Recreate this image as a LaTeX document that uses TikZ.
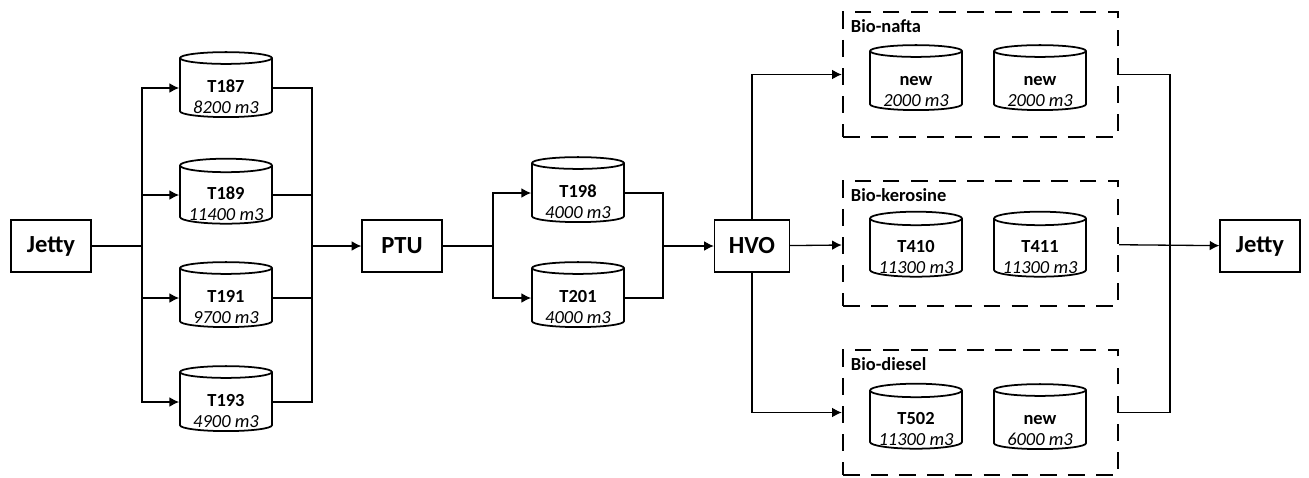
\documentclass[tikz,border=0pt]{standalone}
\usepackage{fontspec}
\setmainfont{Carlito}
\usetikzlibrary{shapes.geometric,positioning,arrows.meta}
% tank text: name in bold, volume in italics, set a little low in the body
\newcommand{\tanklabel}[2]{\raisebox{-8.8pt}[0pt][0pt]{\begin{tabular}{@{}c@{}}\textbf{#1}\\\textit{#2}\end{tabular}}}
\begin{document}
\begin{tikzpicture}[
		x=0.02cm, y=-0.02cm,
		unit/.style={rectangle, draw, line width=0.7pt, minimum width=1.6cm, minimum height=1.04cm, font=\fontsize{14}{16}\selectfont\bfseries},
		tank/.style={cylinder, shape border rotate=90, aspect=0.18, draw, line width=1pt, minimum width=1.84cm, minimum height=1.3cm, font=\fontsize{10.5}{12.4}\selectfont, inner sep=0pt},
		group/.style={rectangle, draw, line width=1.4pt, dash pattern=on 9.5pt off 6.5pt, minimum width=5.5cm, minimum height=2.5cm},
		grouplabel/.style={font=\fontsize{10.5}{12}\selectfont\bfseries, inner sep=0pt},
		flow/.style={line width=0.75pt},
		arr/.style={flow, -{Latex[length=5.5pt,width=5.5pt]}}
	]
		\useasboundingbox (0,0) rectangle (1309,477);
		% Main units
		\node[unit] (jetty1) at (51,246) {Jetty};
		\node[unit] (ptu) at (402,246) {PTU};
		\node[unit, minimum width=1.5cm] (hvo) at (752,246) {HVO};
		\node[unit] (jetty2) at (1260,246) {Jetty};
		
		% Storage tanks before PTU
		\node[tank] (t187) at (226,88) {\tanklabel{T187}{8200 m3}};
		\node[tank] (t189) at (226,195) {\tanklabel{T189}{11400 m3}};
		\node[tank] (t191) at (226,298) {\tanklabel{T191}{9700 m3}};
		\node[tank] (t193) at (226,402) {\tanklabel{T193}{4900 m3}};
		
		% Storage tanks before HVO
		\node[tank] (t198) at (578,193) {\tanklabel{T198}{4000 m3}};
		\node[tank] (t201) at (578,298) {\tanklabel{T201}{4000 m3}};
		
		% Product groups
		\node[group] (nafta) at (980.5,74.5) {};
		\node[group] (kero) at (980.5,243.5) {};
		\node[group] (diesel) at (980.5,412.5) {};
		\node[grouplabel, below right=5pt and 5pt of nafta.north west] (naftalabel) {Bio-nafta};
		\node[grouplabel, below right=5pt and 5pt of kero.north west] (kerolabel) {Bio-kerosine};
		\node[grouplabel, below right=5pt and 5pt of diesel.north west] (diesellabel) {Bio-diesel};
		
		\node[tank] (n1) at (916,81) {\tanklabel{new}{2000 m3}};
		\node[tank] (n2) at (1040,81) {\tanklabel{new}{2000 m3}};
		\node[tank] (t410) at (916,248) {\tanklabel{T410}{11300 m3}};
		\node[tank] (t411) at (1040,248) {\tanklabel{T411}{11300 m3}};
		\node[tank] (t502) at (916,420) {\tanklabel{T502}{11300 m3}};
		\node[tank] (n3) at (1040,420) {\tanklabel{new}{6000 m3}};
		
		% Split and merge points
		\coordinate (split1) at (142,246);
		\coordinate (merge1) at (312,246);
		\coordinate (split2) at (493,246);
		\coordinate (merge2) at (663,246);
		\coordinate (merge3) at (1170,246);
		
		\draw[flow] (jetty1) -- (split1);
		\foreach \t in {t187,t189,t191,t193} {
			\draw[arr] (split1) |- (\t);
			\draw[flow] (\t) -| (merge1);
		}
		\draw[arr] (merge1) -- (ptu);
		
		\draw[flow] (ptu) -- (split2);
		\foreach \t in {t198,t201} {
			\draw[arr] (split2) |- (\t);
			\draw[flow] (\t) -| (merge2);
		}
		\draw[arr] (merge2) -- (hvo);
		
		\draw[arr] (hvo) |- (nafta);
		\draw[arr] (hvo) -- (kero);
		\draw[arr] (hvo) |- (diesel);
		
		\draw[flow] (nafta) -| (merge3);
		\draw[flow] (diesel) -| (merge3);
		\draw[arr] (kero) -- (jetty2);
	\end{tikzpicture}
\end{document}
